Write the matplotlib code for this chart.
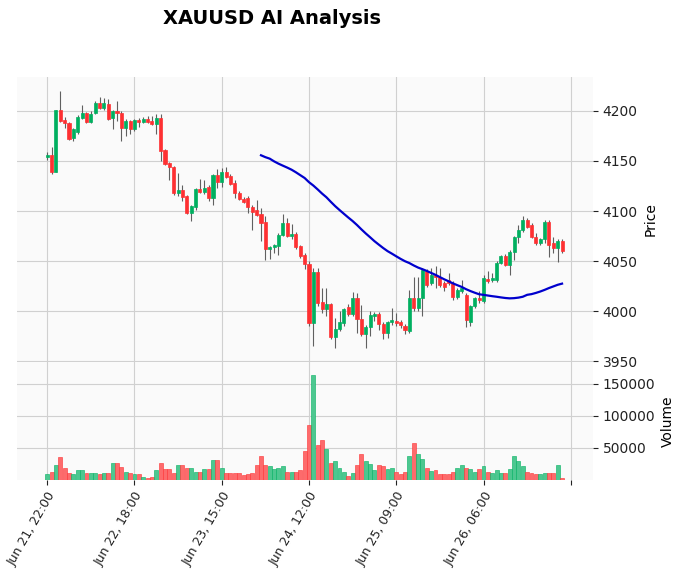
import numpy as np
import pandas as pd
import matplotlib
matplotlib.use('Agg')
import matplotlib.pyplot as plt


# hourly candles
opens = [4154, 4156, 4139, 4201, 4191, 4188, 4173, 4179, 4193, 4198,
         4189, 4198, 4208, 4203, 4207, 4193, 4200, 4198, 4183, 4190,
         4182, 4191, 4189, 4192, 4190, 4187, 4193, 4161, 4148, 4144,
         4118, 4121, 4115, 4098, 4104, 4122, 4119, 4124, 4113, 4136,
         4129, 4139, 4135, 4128, 4118, 4112, 4113, 4104, 4101, 4097,
         4089, 4062, 4064, 4065, 4076, 4088, 4075, 4077, 4065, 4056,
         4047, 3988, 4039, 4009, 4002, 4007, 3974, 3982, 3988, 4004,
         3997, 4013, 3992, 3977, 3984, 3995, 3997, 3987, 3978, 3989,
         3990, 3989, 3985, 3980, 4013, 4003, 4013, 4040, 4028, 4036,
         4034, 4028, 4031, 4028, 4014, 4020, 4016, 3989, 4005, 4013,
         4010, 4032, 4031, 4031, 4048, 4055, 4046, 4059, 4074, 4081,
         4091, 4086, 4074, 4068, 4072, 4089, 4068, 4063, 4070]
highs = [4159, 4164, 4201, 4220, 4194, 4189, 4183, 4196, 4206, 4199,
         4200, 4210, 4214, 4213, 4212, 4201, 4210, 4200, 4192, 4191,
         4192, 4193, 4194, 4195, 4195, 4197, 4197, 4162, 4149, 4145,
         4138, 4126, 4116, 4106, 4123, 4132, 4131, 4126, 4137, 4142,
         4143, 4144, 4137, 4131, 4120, 4114, 4115, 4106, 4111, 4103,
         4095, 4065, 4067, 4078, 4097, 4093, 4087, 4079, 4066, 4058,
         4050, 4043, 4043, 4023, 4023, 4008, 3993, 4000, 4003, 4007,
         4019, 4018, 4006, 3986, 4000, 3999, 3999, 3989, 3990, 4003,
         3998, 3991, 3987, 4021, 4034, 4034, 4043, 4042, 4043, 4045,
         4043, 4030, 4038, 4030, 4023, 4031, 4018, 4006, 4014, 4020,
         4036, 4040, 4038, 4050, 4056, 4057, 4061, 4075, 4086, 4095,
         4093, 4088, 4078, 4073, 4091, 4091, 4074, 4072, 4072]
lows = [4151, 4137, 4139, 4189, 4183, 4171, 4170, 4177, 4192, 4188,
        4188, 4197, 4202, 4201, 4191, 4182, 4190, 4170, 4175, 4177,
        4180, 4184, 4188, 4188, 4186, 4177, 4150, 4146, 4131, 4116,
        4115, 4110, 4097, 4090, 4101, 4118, 4117, 4110, 4106, 4123,
        4124, 4133, 4126, 4113, 4111, 4108, 4098, 4081, 4095, 4070,
        4051, 4052, 4058, 4056, 4075, 4074, 4072, 4062, 4053, 4042,
        3985, 3965, 4005, 3998, 3995, 3972, 3963, 3980, 3985, 3995,
        3995, 3978, 3975, 3963, 3975, 3990, 3981, 3972, 3973, 3986,
        3985, 3983, 3977, 3978, 4000, 4000, 3995, 4024, 4026, 4023,
        4024, 4020, 4026, 4011, 4012, 4018, 3984, 3985, 4003, 4008,
        4008, 4028, 4029, 4029, 4047, 4045, 4036, 4051, 4068, 4079,
        4083, 4073, 4066, 4066, 4068, 4054, 4058, 4049, 4058]
closes = [4156, 4139, 4201, 4190, 4188, 4172, 4182, 4194, 4198, 4189,
          4197, 4208, 4203, 4208, 4192, 4200, 4198, 4183, 4190, 4182,
          4191, 4189, 4192, 4189, 4187, 4193, 4160, 4147, 4144, 4118,
          4121, 4114, 4098, 4105, 4122, 4119, 4123, 4113, 4136, 4129,
          4139, 4134, 4127, 4118, 4112, 4109, 4104, 4099, 4096, 4088,
          4062, 4064, 4066, 4076, 4088, 4075, 4077, 4064, 4055, 4047,
          3988, 4039, 4008, 4002, 4007, 3974, 3982, 3989, 4002, 3997,
          4013, 3992, 3977, 3984, 3996, 3997, 3987, 3978, 3989, 3991,
          3988, 3986, 3981, 4013, 4003, 4013, 4041, 4026, 4036, 4034,
          4026, 4024, 4028, 4014, 4021, 4023, 3991, 4005, 4013, 4011,
          4033, 4030, 4033, 4048, 4055, 4046, 4059, 4074, 4081, 4091,
          4084, 4074, 4068, 4072, 4089, 4066, 4063, 4070, 4060]
volumes = [9000, 12000, 23000, 35000, 18000, 11000, 9000, 15000, 15000, 11000,
           11000, 11000, 9000, 11000, 11000, 26000, 26000, 20000, 13000, 10000,
           9000, 9000, 5000, 3500, 5000, 15000, 26000, 17000, 17000, 11000,
           23000, 23000, 19000, 18000, 13000, 13000, 17000, 17000, 31000, 31000,
           19000, 11000, 11000, 10000, 11000, 8000, 9000, 11000, 23000, 38000,
           24000, 22000, 17000, 19000, 22000, 13000, 13000, 13000, 15000, 45000,
           86000, 164000, 55000, 62000, 49000, 27000, 29500, 19000, 13000, 6000,
           10000, 24000, 40000, 29500, 25000, 15000, 23000, 21000, 17000, 19000,
           13000, 9000, 13000, 38000, 57000, 40000, 32000, 19000, 14000, 15000,
           9000, 9000, 9000, 13000, 19000, 23000, 19000, 17000, 13000, 17000,
           21000, 13000, 11000, 15000, 11000, 11000, 17000, 38000, 29500, 22000,
           13000, 11000, 9000, 9000, 10000, 10000, 10000, 24000, 3500]

tick_pos = [0, 20, 40, 60, 80, 100, 120]
tick_labels = ['Jun 21, 22:00', 'Jun 22, 18:00', 'Jun 23, 15:00',
               'Jun 24, 12:00', 'Jun 25, 09:00', 'Jun 26, 06:00', '']

up_col, down_col = '#00b060', '#fe3032'
vol_up, vol_down = '#4dc790', '#fd6b6c'
wick_col = '#606060'


def style_axis(ax):
    ax.set_facecolor('#fafafa')
    for s in ax.spines.values():
        s.set_visible(False)
    ax.grid(True, color='#d0d0d0', linewidth=0.8)
    ax.set_axisbelow(True)
    ax.yaxis.tick_right()
    ax.yaxis.set_label_position('right')
    ax.tick_params(axis='y', labelsize=10, length=3.5, colors='#222222')


def main():
    o = np.array(opens)
    h = np.array(highs)
    lo = np.array(lows)
    c = np.array(closes)
    idx = np.arange(len(c))
    up = c >= o
    body_cols = np.where(up, up_col, down_col)

    fig = plt.figure(figsize=(6.84, 5.74), dpi=100)
    ax = fig.add_axes([0.025, 0.369, 0.842, 0.497])
    axv = fig.add_axes([0.025, 0.164, 0.842, 0.205], sharex=ax)
    style_axis(ax)
    style_axis(axv)

    ax.vlines(idx, lo, h, color=wick_col, linewidth=0.8, zorder=2)
    heights = np.maximum(np.abs(c - o), 0.8)
    ax.bar(idx, heights, bottom=np.minimum(o, c), width=0.7,
           color=body_cols, edgecolor=body_cols, linewidth=0.5, zorder=3)

    # 50-period moving average of the closes
    mav = pd.Series(c).rolling(50).mean()
    ax.plot(idx, mav, color='#0000cd', linewidth=1.6, zorder=4)

    ax.set_ylim(3949, 4234)
    ax.set_yticks([3950, 4000, 4050, 4100, 4150, 4200])
    ax.set_ylabel('Price', fontsize=10)
    ax.tick_params(axis='x', bottom=False, labelbottom=False)

    vcols = np.where(up, vol_up, vol_down)
    axv.bar(idx, volumes, width=0.9, color=vcols, edgecolor=body_cols,
            linewidth=0.4, zorder=3)
    axv.set_ylim(0, 184000)
    axv.set_yticks([50000, 100000, 150000])
    axv.set_ylabel('Volume', fontsize=10)

    axv.set_xlim(-6.9, 125.1)
    axv.set_xticks(tick_pos)
    axv.set_xticklabels(tick_labels, rotation=60, ha='right',
                        rotation_mode='anchor', fontsize=9)
    axv.tick_params(axis='x', length=3.5, colors='#222222')

    fig.text(0.398, 0.968, 'XAUUSD AI Analysis', ha='center', va='center',
             fontsize=14, fontweight='bold')

    fig.savefig('out.png', dpi=100)


if __name__ == '__main__':
    main()
